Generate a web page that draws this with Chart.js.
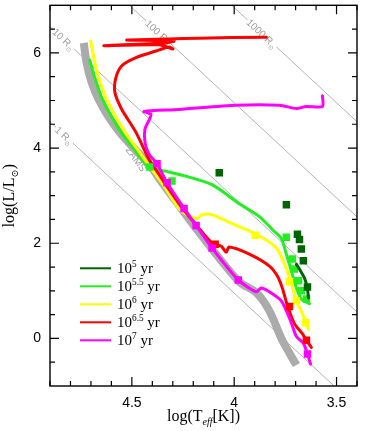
<!DOCTYPE html>
<html>
<head>
<meta charset="utf-8">
<script src="https://cdn.jsdelivr.net/npm/chart.js@4.4.1/dist/chart.umd.min.js"></script>
<style>
  html, body { margin: 0; padding: 0; background: #fff; }
</style>
</head>
<body>
<canvas id="hrd" width="374" height="431"></canvas>
<script>
// ZAMS band (log Teff, log L)
const zamsT = [4.735, 4.721, 4.696, 4.662, 4.616, 4.556, 4.487, 4.414, 4.345, 4.262, 4.186, 4.096, 3.975, 3.892, 3.828, 3.765, 3.696];
const zamsL = [6.21, 5.79, 5.375, 5.02, 4.67, 4.31, 3.98, 3.65, 3.23, 2.75, 2.31, 1.81, 1.19, 0.96, 0.58, -0.04, -0.56];

// isochrones
const iso55T = [4.706, 4.681, 4.647, 4.603, 4.549, 4.485, 4.417, 4.343, 4.245, 4.108, 3.975, 3.877, 3.814, 3.77, 3.745, 3.721, 3.696, 3.672, 3.632];
const iso55L = [5.85, 5.48, 5.06, 4.69, 4.31, 3.96, 3.60, 3.52, 3.42, 3.23, 2.83, 2.56, 2.29, 2.10, 1.77, 1.42, 1.06, 0.83, 0.73];

const iso6T = [4.701, 4.686, 4.662, 4.627, 4.583, 4.529, 4.471, 4.407, 4.338, 4.27, 4.221, 4.181, 4.157, 4.108, 4.025, 3.892, 3.794, 3.745, 3.721, 3.696, 3.667, 3.637];
const iso6L = [6.25, 5.90, 5.48, 5.06, 4.69, 4.31, 3.96, 3.58, 3.17, 2.73, 2.58, 2.52, 2.60, 2.60, 2.44, 2.19, 1.90, 1.46, 1.15, 0.79, 0.52, 0.19];

const iso65T = [3.623, 3.647, 3.667, 3.706, 3.74, 3.765, 3.789, 3.828, 3.926, 4.025, 4.039, 4.064, 4.103, 4.176, 4.255, 4.328, 4.382, 4.417, 4.48, 4.549, 4.583, 4.578, 4.549, 4.48, 4.382, 4.319, 4.299, 4.368, 4.637, 4.343, 4.294, 4.525, 4.172, 3.843];
const iso65L = [-0.19, -0.04, 0.10, 0.31, 0.69, 1.06, 1.31, 1.52, 1.77, 1.92, 1.81, 1.94, 1.98, 2.33, 2.75, 3.19, 3.54, 3.77, 4.33, 4.81, 5.17, 5.48, 5.73, 5.90, 6.04, 6.125, 6.08, 6.17, 6.15, 6.21, 6.25, 6.27, 6.31, 6.33];

const iso7T = [3.627, 3.642, 3.662, 3.696, 3.725, 3.77, 3.828, 3.868, 3.892, 3.98, 4.108, 4.186, 4.245, 4.328, 4.377, 4.417, 4.436, 4.436, 4.412, 4.407, 4.441, 4.27, 3.99, 3.779, 3.696, 3.647, 3.569, 3.569];
const iso7L = [-0.54, -0.33, -0.10, 0.04, 0.375, 0.79, 0.98, 1.06, 0.98, 1.23, 1.90, 2.375, 2.73, 3.27, 3.67, 3.875, 4.125, 4.40, 4.625, 4.71, 4.77, 4.81, 4.90, 4.90, 4.83, 4.875, 4.875, 5.10];

const iso5T = [3.696, 3.657, 3.642, 3.637];
const iso5L = [1.56, 1.27, 1.04, 0.85];

// square markers
const mark5T = [4.073, 3.745, 3.691, 3.681, 3.672, 3.662, 3.642];
const mark5L = [3.48, 2.81, 2.19, 2.08, 1.88, 1.63, 1.08];
const mark55T = [4.412, 4.304, 3.745, 3.716, 3.706, 3.686, 3.672, 3.647];
const mark55L = [3.60, 3.31, 2.125, 1.67, 1.46, 1.21, 1.00, 0.83];
const mark6T = [3.897, 3.73, 3.696, 3.652];
const mark6L = [2.17, 1.19, 0.79, 0.33];
const mark65T = [4.093, 3.73, 3.647];
const mark65L = [1.98, 0.67, -0.04];
const mark7T = [4.377, 4.328, 4.245, 4.186, 4.108, 3.98, 3.642];
const mark7L = [3.67, 3.27, 2.73, 2.375, 1.90, 1.23, -0.33];

// constant radius lines (end points)
const radNames = ['1', '10', '100', '1000'];
const radT = [[4.9, 3.512], [4.9, 3.4], [4.512, 3.4], [4.012, 3.4]];
const radL = [[4.553, -1], [6.553, 0.553], [7, 2.553], [7, 4.553]];
const radLabelT = [4.83, 4.833, 4.37, 3.865];
const radLabelL = [4.27, 6.29, 6.43, 6.41];

const legendExp = ['5', '5.5', '6', '6.5', '7'];
const colors = ['#006400', '#22ee22', '#ffff00', '#ff0000', '#ff00ff'];

function pts(T, L) {
  return T.map((t, i) => ({ x: t, y: L[i] }));
}
function lineSet(label, T, L, color, width, order) {
  return {
    label: label, data: pts(T, L), showLine: true,
    borderColor: color, backgroundColor: color, borderWidth: width,
    pointRadius: 0, pointHoverRadius: 0, tension: 0.25, order: order,
    borderCapStyle: 'round', borderJoinStyle: 'round'
  };
}
function markSet(label, T, L, color, order) {
  return {
    label: label, data: pts(T, L), showLine: false, pointStyle: 'rect',
    pointRadius: 5.3, pointHoverRadius: 5.3, backgroundColor: color, borderColor: color,
    borderWidth: 0, order: order
  };
}

let datasets = [];
for (let i = 0; i < radNames.length; i++) {
  let d = lineSet('R' + radNames[i], radT[i], radL[i], '#b4b4b4', 1, 300);
  d.tension = 0;
  datasets.push(d);
}
let zams = lineSet('ZAMS', zamsT, zamsL, '#ababab', 8, 200);
zams.borderCapStyle = 'butt';
zams.tension = 0.3;
datasets.push(zams);
datasets.push(lineSet('iso55', iso55T, iso55L, colors[1], 3, 60));
datasets.push(lineSet('iso6', iso6T, iso6L, colors[2], 3, 50));
datasets.push(lineSet('iso65', iso65T, iso65L, colors[3], 3, 40));
datasets.push(lineSet('iso7', iso7T, iso7L, colors[4], 3, 30));
datasets.push(markSet('m55', mark55T, mark55L, colors[1], 25));
datasets.push(markSet('m6', mark6T, mark6L, colors[2], 24));
datasets.push(markSet('m65', mark65T, mark65L, colors[3], 23));
datasets.push(markSet('m7', mark7T, mark7L, colors[4], 22));
datasets.push(markSet('m5', mark5T, mark5L, colors[0], 21));
datasets.push(lineSet('iso5', iso5T, iso5L, colors[0], 3, 20));

// text with sub / superscripts: parts = [text, shift(1 sup, -1 sub), italic]
function richWidth(ctx, parts, size, fam) {
  let w = 0;
  for (const p of parts) {
    const fs = p[1] ? size * 0.62 : size;
    ctx.font = (p[2] ? 'italic ' : '') + fs + 'px ' + fam;
    w += ctx.measureText(p[0]).width;
  }
  return w;
}
function drawRich(ctx, parts, x, y, size, fam) {
  let cx = x;
  ctx.textAlign = 'left';
  ctx.textBaseline = 'alphabetic';
  for (const p of parts) {
    const fs = p[1] ? size * 0.62 : size;
    ctx.font = (p[2] ? 'italic ' : '') + fs + 'px ' + fam;
    const dy = p[1] === 1 ? -size * 0.42 : (p[1] === -1 ? size * 0.28 : 0);
    ctx.fillText(p[0], cx, y + dy);
    cx += ctx.measureText(p[0]).width;
  }
}

const SERIF = '"Liberation Serif", "DejaVu Serif", serif';
const SANS = '"Liberation Sans", "DejaVu Sans", sans-serif';

const decorations = {
  id: 'decorations',
  beforeDatasetDraw(chart, args) {
    if (chart.data.datasets[args.index].label !== 'ZAMS') return;
    const ctx = chart.ctx;
    const xs = chart.scales.x, ys = chart.scales.y;
    ctx.save();
    ctx.fillStyle = '#9a9a9a';
    for (let i = 0; i < radNames.length; i++) {
      const x0 = xs.getPixelForValue(radT[i][0]), y0 = ys.getPixelForValue(radL[i][0]);
      const x1 = xs.getPixelForValue(radT[i][1]), y1 = ys.getPixelForValue(radL[i][1]);
      const ang = Math.atan2(y1 - y0, x1 - x0);
      const parts = [[radNames[i] + ' R', 0], ['\u2299', -1]];
      const w = richWidth(ctx, parts, 10, SANS);
      ctx.save();
      ctx.translate(xs.getPixelForValue(radLabelT[i]), ys.getPixelForValue(radLabelL[i]));
      ctx.rotate(ang);
      ctx.fillStyle = '#fff';
      ctx.fillRect(-w / 2 - 1, -5, w + 2, 10);
      ctx.fillStyle = '#9a9a9a';
      drawRich(ctx, parts, -w / 2, 3.5, 10, SANS);
      ctx.restore();
    }
    // ZAMS label
    ctx.save();
    ctx.translate(xs.getPixelForValue(4.482), ys.getPixelForValue(3.76));
    ctx.rotate(54 * Math.PI / 180);
    ctx.font = '10px ' + SANS;
    ctx.textAlign = 'center';
    ctx.textBaseline = 'middle';
    ctx.fillText('ZAMS', 0, 0);
    ctx.restore();
    ctx.restore();
  },
  afterDraw(chart) {
    const ctx = chart.ctx;
    const a = chart.chartArea;
    const xs = chart.scales.x, ys = chart.scales.y;
    ctx.save();
    // frame
    ctx.strokeStyle = '#000';
    ctx.lineWidth = 1.4;
    ctx.strokeRect(a.left, a.top, a.right - a.left, a.bottom - a.top);
    // inward ticks
    ctx.lineWidth = 1.2;
    ctx.beginPath();
    xs.ticks.forEach(t => {
      const px = xs.getPixelForValue(t.value);
      const len = Math.abs(t.value * 2 - Math.round(t.value * 2)) < 1e-6 ? 9 : 5;
      ctx.moveTo(px, a.bottom); ctx.lineTo(px, a.bottom - len);
      ctx.moveTo(px, a.top); ctx.lineTo(px, a.top + len);
    });
    ys.ticks.forEach(t => {
      const py = ys.getPixelForValue(t.value);
      if (py < a.top + 1 || py > a.bottom - 1) return;
      const len = Math.abs(t.value / 2 - Math.round(t.value / 2)) < 1e-6 ? 9 : 5;
      ctx.moveTo(a.left, py); ctx.lineTo(a.left + len, py);
      ctx.moveTo(a.right, py); ctx.lineTo(a.right - len, py);
    });
    ctx.stroke();

    // legend
    ctx.fillStyle = '#000';
    for (let i = 0; i < legendExp.length; i++) {
      const ly = a.top + 263 + i * 18;
      ctx.strokeStyle = colors[i];
      ctx.lineWidth = 2;
      ctx.beginPath();
      ctx.moveTo(80, ly); ctx.lineTo(111, ly);
      ctx.stroke();
      drawRich(ctx, [['10', 0], [legendExp[i], 1], [' yr', 0]], 117, ly + 5, 15, SERIF);
    }

    // axis titles
    const xt = [['log(T', 0], ['eff', -1, true], ['[K])', 0]];
    const xw = richWidth(ctx, xt, 16, SERIF);
    drawRich(ctx, xt, (a.left + a.right) / 2 - xw / 2, 421, 16, SERIF);

    const yt = [['log(L/L', 0], ['\u2299', -1], [')', 0]];
    const yw = richWidth(ctx, yt, 16, SERIF);
    ctx.save();
    ctx.translate(14, (a.top + a.bottom) / 2);
    ctx.rotate(-Math.PI / 2);
    drawRich(ctx, yt, -yw / 2, 0, 16, SERIF);
    ctx.restore();
    ctx.restore();
  }
};

const ctx = document.getElementById('hrd');
new Chart(ctx, {
  type: 'scatter',
  data: { datasets: datasets },
  plugins: [decorations],
  options: {
    responsive: false,
    animation: false,
    events: [],
    layout: { padding: { left: 0, top: 3, right: 17, bottom: 0 } },
    plugins: { legend: { display: false }, tooltip: { enabled: false } },
    scales: {
      x: {
        type: 'linear', reverse: true, min: 3.4, max: 4.9,
        afterFit(s) { s.height = 45; s.paddingLeft = 0; s.paddingRight = 0; },
        border: { display: false },
        grid: { drawOnChartArea: false, drawTicks: false },
        ticks: {
          stepSize: 0.1, autoSkip: false, maxRotation: 0, padding: 9,
          color: '#000', font: { family: SANS, size: 14 },
          callback: v => Math.abs(v * 2 - Math.round(v * 2)) < 1e-6 ? String(Math.round(v * 10) / 10) : ''
        }
      },
      y: {
        type: 'linear', min: -1, max: 7,
        afterFit(s) { s.width = 50; s.paddingTop = 0; s.paddingBottom = 0; },
        border: { display: false },
        grid: { drawOnChartArea: false, drawTicks: false },
        ticks: {
          stepSize: 0.5, autoSkip: false, padding: 9,
          color: '#000', font: { family: SANS, size: 14 },
          callback: v => (v >= 0 && Math.abs(v / 2 - Math.round(v / 2)) < 1e-6) ? String(v) : ''
        }
      }
    }
  }
});
</script>
</body>
</html>
